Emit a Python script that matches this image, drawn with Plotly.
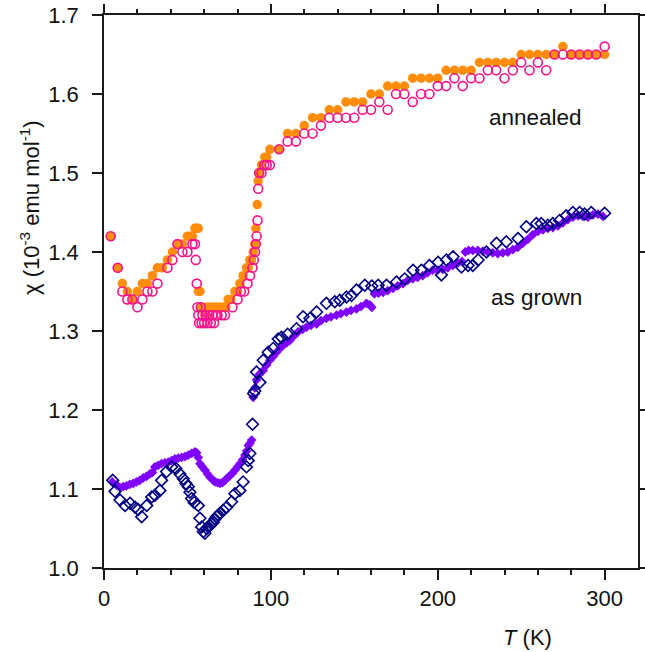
import plotly.graph_objects as go

# Annealed, filled circles (orange)
ann_f_T = [4, 8.2, 11, 14, 17, 20, 23, 26, 29, 32, 35, 38, 41, 44, 47, 50, 52, 53, 54.5, 55.5, 56.5,
           56.5, 57.5, 58, 59, 60.5, 61, 62.5, 64, 65.5, 67, 68.5, 70, 71.5, 73, 74.4, 76, 78.4, 80,
           81.4, 83.4, 85.4, 86.4, 87.4, 88.4, 89.4, 90.4, 91, 91.8, 92.4, 93, 94.4, 96.4, 97.5, 99.4,
           105, 110, 115, 120, 125, 130, 135, 140, 145, 150, 155, 160, 165, 170, 175, 180, 185, 190,
           195, 200, 205, 210, 215, 220, 225, 230, 235, 240, 245, 250, 255, 260, 265, 270, 275, 280,
           285, 290, 295, 300]
ann_f_chi = [1.42, 1.38, 1.36, 1.35, 1.34, 1.35, 1.36, 1.36, 1.37, 1.38, 1.38, 1.39, 1.40, 1.41, 1.41,
             1.42, 1.42, 1.42, 1.43, 1.43, 1.43,
             1.35, 1.35, 1.33, 1.33, 1.32, 1.33, 1.33, 1.33, 1.33, 1.33, 1.33, 1.33, 1.33, 1.33, 1.34,
             1.34, 1.35, 1.35, 1.36, 1.37, 1.38, 1.38, 1.39, 1.39, 1.40, 1.41, 1.43, 1.46, 1.49, 1.50,
             1.51, 1.52, 1.52, 1.53,
             1.53, 1.55, 1.55, 1.56, 1.57, 1.57, 1.58, 1.58, 1.59, 1.59, 1.59, 1.60, 1.60, 1.61, 1.61,
             1.61, 1.62, 1.62, 1.62, 1.62, 1.63, 1.63, 1.63, 1.63, 1.64, 1.64, 1.64, 1.64, 1.64, 1.65,
             1.65, 1.65, 1.65, 1.65, 1.66, 1.65, 1.65, 1.65, 1.65, 1.65]

# Annealed, open circles (pink)
ann_o_T = [4, 8.2, 11, 14, 17, 20, 23, 26, 29, 32, 38, 41, 44, 47, 50, 53, 54.5, 55, 55.6, 56, 56.5,
           57, 58, 58.5, 59, 60, 61, 62, 63, 64, 65, 66, 67, 68, 70.5, 72.5, 77, 80, 82, 84, 86,
           87.5, 89, 89.8, 90.5, 91, 91.5, 92, 92.4, 93, 94.4, 96, 97.5, 99.4,
           105, 110, 115, 120, 125, 130, 135, 140, 145, 150, 155, 160, 165, 170, 175, 180, 185, 190,
           195, 200, 205, 210, 215, 220, 225, 230, 235, 240, 245, 250, 255, 260, 265, 270, 275, 280,
           285, 290, 295, 300]
ann_o_chi = [1.42, 1.38, 1.35, 1.34, 1.34, 1.33, 1.34, 1.35, 1.35, 1.36, 1.38, 1.39, 1.41, 1.40, 1.40,
             1.41, 1.41, 1.39, 1.36, 1.33, 1.32, 1.31, 1.33, 1.31, 1.32, 1.31, 1.32, 1.31, 1.32, 1.31,
             1.32, 1.31, 1.32, 1.32, 1.32, 1.32, 1.33, 1.34, 1.35, 1.35, 1.36, 1.37, 1.38, 1.39, 1.40,
             1.41, 1.42, 1.44, 1.48, 1.50, 1.50, 1.51, 1.51, 1.51,
             1.53, 1.54, 1.54, 1.55, 1.55, 1.56, 1.57, 1.57, 1.57, 1.57, 1.58, 1.58, 1.59, 1.58, 1.60,
             1.60, 1.59, 1.60, 1.60, 1.61, 1.61, 1.62, 1.61, 1.62, 1.62, 1.63, 1.63, 1.62, 1.63, 1.64,
             1.63, 1.64, 1.63, 1.65, 1.65, 1.65, 1.65, 1.65, 1.65, 1.66]

# As grown, filled diamonds (purple)
ag_f_T = [5, 7.5, 9.5, 11.5, 13.5, 15.5, 17.5, 19.5, 21.5, 23.5, 25.5, 27.5, 29, 30.5, 32.5, 34.5,
          36.5, 38.5, 40.5, 42.5, 44.5, 46.5, 48.5, 50.5, 52.5, 54.5, 55.5, 56.5, 57.5, 59, 60.5, 62,
          63.5, 65, 66.5, 68, 69.5, 71, 72.5, 74, 75.5, 77, 78.5, 80, 81.5, 83, 84.5, 85.5, 86.5, 87.5,
          88.5, 89.4, 90.4, 91.4, 93, 95.4, 97.5, 99.4, 101.5, 103.4, 105.5, 107.4, 109.5, 111.4, 114,
          116.3, 119, 121.4, 124, 127.4, 130, 133.3, 136, 139.3, 142, 145.3, 148, 151.3, 154, 157.3,
          159.3, 160.5, 162, 164.5, 167.3, 170, 173.2, 176, 179.2, 182, 185, 188, 191, 194, 197, 200,
          203, 206, 209, 212, 214.5, 216.5, 218.5, 221, 224, 227, 230, 233, 236, 239, 242, 245, 248,
          251, 254, 257, 260, 263, 266, 269, 272, 275, 278, 281, 284, 287, 290, 293, 296, 299]
ag_f_chi = [1.109, 1.105, 1.102, 1.103, 1.104, 1.106, 1.107, 1.109, 1.111, 1.114, 1.116, 1.119, 1.121,
            1.128, 1.130, 1.132, 1.133, 1.134, 1.136, 1.138, 1.139, 1.140, 1.141, 1.143, 1.145, 1.147,
            1.146, 1.140, 1.132, 1.128, 1.124, 1.119, 1.115, 1.112, 1.109, 1.108, 1.107, 1.108, 1.111,
            1.114, 1.117, 1.120, 1.124, 1.128, 1.132, 1.137, 1.143, 1.148, 1.155, 1.158, 1.162, 1.216,
            1.228, 1.238, 1.245, 1.250, 1.257, 1.263, 1.268, 1.273, 1.278, 1.282, 1.285, 1.288, 1.294,
            1.299, 1.302, 1.305, 1.307, 1.309, 1.313, 1.316, 1.318, 1.320, 1.322, 1.324, 1.326, 1.328,
            1.331, 1.335, 1.333, 1.330, 1.347, 1.348, 1.349, 1.351, 1.354, 1.357, 1.360, 1.364, 1.366,
            1.368, 1.370, 1.374, 1.377, 1.377, 1.378, 1.380, 1.383, 1.386, 1.388, 1.400, 1.402, 1.402,
            1.402, 1.401, 1.400, 1.399, 1.398, 1.399, 1.400, 1.403, 1.406, 1.411, 1.416, 1.422, 1.426,
            1.428, 1.430, 1.431, 1.433, 1.437, 1.441, 1.444, 1.446, 1.445, 1.444, 1.447, 1.448, 1.445]

# As grown, open diamonds (navy)
ag_o_T = [5.2, 6.6, 9.6, 12.6, 15.6, 18.6, 20.5, 22.6, 25.6, 28.6, 30.5, 33.5, 34.5, 37.5, 40.5, 43.1,
          45.5, 47.5, 49.1, 50.5, 51.5, 52.5, 54, 56.5, 57.5, 58.5, 59.5, 60.5, 61.5, 62.5, 63.5, 64.5,
          65.5, 66.5, 67.5, 68.5, 69.5, 71.4, 73.5, 76.5, 78.4, 81.4, 83.4, 85.4, 86.4, 87.4, 89,
          89.6, 90.4, 91.4, 93.4, 95.4, 98.4, 101.4, 104.4, 106.4, 110, 115.4, 119.3, 123.4, 127.4,
          133.3, 138.3, 141.3, 145.3, 148.3, 151.3, 156.3, 160.5, 164.3, 169.3, 175.3, 180.2, 185.2,
          190.2, 195, 200.2, 202.2, 205.2, 209.2, 214.2, 218.2, 221, 224.2, 229.2, 235.2, 241.1,
          248.1, 253.1, 259.1, 262, 266, 269, 273, 277, 281, 285, 288, 292, 300]
ag_o_chi = [1.111, 1.097, 1.086, 1.079, 1.082, 1.077, 1.074, 1.065, 1.079, 1.090, 1.092, 1.098, 1.111,
            1.122, 1.128, 1.126, 1.119, 1.113, 1.107, 1.103, 1.096, 1.088, 1.083, 1.079, 1.063, 1.052,
            1.046, 1.044, 1.050, 1.052, 1.054, 1.056, 1.058, 1.062, 1.065, 1.067, 1.069, 1.073, 1.077,
            1.084, 1.094, 1.098, 1.109, 1.128, 1.136, 1.145, 1.182, 1.221, 1.224, 1.248, 1.235, 1.263,
            1.273, 1.278, 1.290, 1.292, 1.296, 1.303, 1.318, 1.316, 1.324, 1.335, 1.337, 1.339, 1.343,
            1.345, 1.352, 1.358, 1.357, 1.358, 1.358, 1.362, 1.366, 1.377, 1.377, 1.383, 1.387, 1.371,
            1.390, 1.394, 1.381, 1.383, 1.383, 1.390, 1.400, 1.411, 1.413, 1.417, 1.432, 1.436, 1.436,
            1.434, 1.436, 1.440, 1.446, 1.450, 1.450, 1.448, 1.450, 1.449]

x_major = [0, 100, 200, 300]
x_minor = list(range(20, 320, 20))

ORANGE = "#FF8C0A"
PINK = "#F5158A"
PURPLE = "#8000FF"
NAVY = "#000080"
AXC = "#1a1a1a"
FONT = "Liberation Sans, Arial, sans-serif"

fig = go.Figure()
fig.add_trace(go.Scatter(x=ag_f_T, y=ag_f_chi, mode="markers",
                         marker=dict(symbol="diamond", size=7.5, color=PURPLE, line=dict(width=0))))
fig.add_trace(go.Scatter(x=ag_o_T, y=ag_o_chi, mode="markers",
                         marker=dict(symbol="diamond-open", size=9, color=NAVY, line=dict(width=1.6, color=NAVY))))
fig.add_trace(go.Scatter(x=ann_f_T, y=ann_f_chi, mode="markers",
                         marker=dict(symbol="circle", size=9.5, color=ORANGE, line=dict(width=0))))
fig.add_trace(go.Scatter(x=ann_o_T, y=ann_o_chi, mode="markers",
                         marker=dict(symbol="circle-open", size=9, color=PINK, line=dict(width=1.6, color=PINK))))

tickfont = dict(family=FONT, size=22, color="#111")

fig.update_layout(
    xaxis=dict(range=[0, 320], tickvals=x_major, showline=True, linecolor=AXC, linewidth=1.5,
               mirror=True, ticks="outside", ticklen=10, tickwidth=1.5, tickcolor=AXC,
               showgrid=False, zeroline=False, tickfont=tickfont, automargin=False,
               minor=dict(tickvals=x_minor, ticks="outside", ticklen=5, tickwidth=1.5, tickcolor=AXC)),
    xaxis2=dict(range=[0, 320], overlaying="x", side="top", tickvals=x_major, showticklabels=False,
                showline=False, ticks="outside", ticklen=10, tickwidth=1.5, tickcolor=AXC,
                showgrid=False, zeroline=False, automargin=False,
                minor=dict(tickvals=x_minor, ticks="outside", ticklen=5, tickwidth=1.5, tickcolor=AXC)),
    yaxis=dict(range=[1.0, 1.7], dtick=0.1, tick0=1.0, tickformat=".1f", showline=True,
               linecolor=AXC, linewidth=1.5, mirror="ticks", ticks="outside", ticklen=10,
               tickwidth=1.5, tickcolor=AXC, showgrid=False, zeroline=False, tickfont=tickfont,
               ticklabelstandoff=9, automargin=False),
)
# invisible trace to activate the top axis
fig.add_trace(go.Scatter(x=[], y=[], xaxis="x2", yaxis="y", showlegend=False))

fig.add_annotation(text="annealed", x=258.5, y=1.570, xref="x", yref="y", showarrow=False,
                   xanchor="center", yanchor="middle",
                   font=dict(family=FONT, size=22.5, color="#111"))
fig.add_annotation(text="as grown", x=259, y=1.342, xref="x", yref="y", showarrow=False,
                   xanchor="center", yanchor="middle",
                   font=dict(family=FONT, size=22.5, color="#111"))
fig.add_annotation(text="<i>T</i> (K)", x=(527.5 - 104) / 534, y=(568 - 637) / 553,
                   xref="paper", yref="paper", showarrow=False, xanchor="center", yanchor="middle",
                   font=dict(family=FONT, size=22, color="#111"))
fig.add_annotation(text="χ (10<sup>-3</sup> emu mol<sup>-1</sup>)", x=(30 - 104) / 534,
                   y=(568 - 208) / 553, xref="paper", yref="paper", showarrow=False,
                   xanchor="center", yanchor="middle",
                   textangle=-90, font=dict(family=FONT, size=22, color="#111"))

fig.update_layout(width=645, height=652, margin=dict(l=104, r=7, t=15, b=84, autoexpand=False),
                  paper_bgcolor="white", plot_bgcolor="white", showlegend=False)

fig.write_html("out.html")
